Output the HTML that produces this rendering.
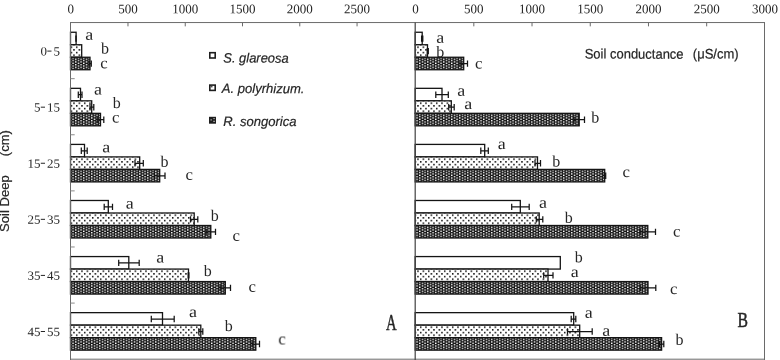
<!DOCTYPE html>
<html><head><meta charset="utf-8"><title>chart</title>
<style>
html,body{margin:0;padding:0;background:#fff;}
body{width:780px;height:360px;overflow:hidden;}
svg{display:block;filter:grayscale(1);}
text{font-family:"Liberation Serif",serif;fill:#262626;}
.s{font-family:"Liberation Sans",sans-serif;}
.b{stroke:#262626;stroke-width:0.2px;}
</style></head><body>
<svg width="780" height="360" viewBox="0 0 780 360">
<defs>
<pattern id="pd" patternUnits="userSpaceOnUse" x="3.920" y="1.120" width="5.3333" height="5.3333">
<rect x="0" y="0" width="5.3333" height="5.3333" fill="#fff"/>
<rect x="0" y="0" width="1.5" height="1.5" fill="#000"/>
<rect x="2.6667" y="2.6667" width="1.5" height="1.5" fill="#000"/>
</pattern>
<pattern id="pk" patternUnits="userSpaceOnUse" x="0.407" y="2.610" width="5.3333" height="2.6667">
<rect x="0" y="0" width="5.3333" height="2.6667" fill="#161616"/>
<rect x="0" y="0" width="1.4" height="1.4" fill="#fff"/>
<rect x="2.6667" y="1.3333" width="1.4" height="1.4" fill="#fff"/>
</pattern>
</defs>
<rect x="0" y="0" width="780" height="360" fill="#fff"/>
<g style="opacity:0.999">
<text transform="translate(89.2,39.8) rotate(0.03) scale(1.12,1.00)" font-size="16.0" text-anchor="middle">a</text>
<text transform="translate(105.0,53.6) rotate(0.03) scale(1.00,0.99)" font-size="16.0" text-anchor="middle">b</text>
<text transform="translate(104.0,68.3) rotate(0.03) scale(1.05,1.00)" font-size="16.0" text-anchor="middle">c</text>
<text transform="translate(98.0,94.6) rotate(0.03) scale(1.12,1.00)" font-size="16.0" text-anchor="middle">a</text>
<text transform="translate(116.7,108.0) rotate(0.03) scale(1.00,0.99)" font-size="16.0" text-anchor="middle">b</text>
<text transform="translate(115.8,122.5) rotate(0.03) scale(1.05,1.00)" font-size="16.0" text-anchor="middle">c</text>
<text transform="translate(106.2,152.3) rotate(0.03) scale(1.12,1.00)" font-size="16.0" text-anchor="middle">a</text>
<text transform="translate(164.6,166.8) rotate(0.03) scale(1.00,0.99)" font-size="16.0" text-anchor="middle">b</text>
<text transform="translate(189.2,179.8) rotate(0.03) scale(1.05,1.00)" font-size="16.0" text-anchor="middle">c</text>
<text transform="translate(129.7,208.6) rotate(0.03) scale(1.12,1.00)" font-size="16.0" text-anchor="middle">a</text>
<text transform="translate(214.7,220.8) rotate(0.03) scale(1.00,0.99)" font-size="16.0" text-anchor="middle">b</text>
<text transform="translate(236.3,240.8) rotate(0.03) scale(1.05,1.00)" font-size="16.0" text-anchor="middle">c</text>
<text transform="translate(160.3,262.6) rotate(0.03) scale(1.12,1.00)" font-size="16.0" text-anchor="middle">a</text>
<text transform="translate(207.8,276.0) rotate(0.03) scale(1.00,0.99)" font-size="16.0" text-anchor="middle">b</text>
<text transform="translate(252.2,291.8) rotate(0.03) scale(1.05,1.00)" font-size="16.0" text-anchor="middle">c</text>
<text transform="translate(193.0,317.0) rotate(0.03) scale(1.12,1.00)" font-size="16.0" text-anchor="middle">a</text>
<text transform="translate(228.7,331.1) rotate(0.03) scale(1.00,0.99)" font-size="16.0" text-anchor="middle">b</text>
<text transform="translate(282.0,344.5) rotate(0.03) scale(1.05,1.00)" font-size="16.0" text-anchor="middle">c</text>
<text transform="translate(440.3,42.8) rotate(0.03) scale(1.12,1.00)" font-size="16.0" text-anchor="middle">a</text>
<text transform="translate(440.3,57.0) rotate(0.03) scale(1.00,0.99)" font-size="16.0" text-anchor="middle">b</text>
<text transform="translate(478.7,68.6) rotate(0.03) scale(1.05,1.00)" font-size="16.0" text-anchor="middle">c</text>
<text transform="translate(461.2,95.8) rotate(0.03) scale(1.12,1.00)" font-size="16.0" text-anchor="middle">a</text>
<text transform="translate(468.3,109.1) rotate(0.03) scale(1.12,1.00)" font-size="16.0" text-anchor="middle">a</text>
<text transform="translate(595.3,122.5) rotate(0.03) scale(1.00,0.99)" font-size="16.0" text-anchor="middle">b</text>
<text transform="translate(501.7,149.0) rotate(0.03) scale(1.12,1.00)" font-size="16.0" text-anchor="middle">a</text>
<text transform="translate(556.2,166.5) rotate(0.03) scale(1.00,0.99)" font-size="16.0" text-anchor="middle">b</text>
<text transform="translate(626.2,177.0) rotate(0.03) scale(1.05,1.00)" font-size="16.0" text-anchor="middle">c</text>
<text transform="translate(543.0,207.8) rotate(0.03) scale(1.12,1.00)" font-size="16.0" text-anchor="middle">a</text>
<text transform="translate(568.7,222.8) rotate(0.03) scale(1.00,0.99)" font-size="16.0" text-anchor="middle">b</text>
<text transform="translate(676.7,236.6) rotate(0.03) scale(1.05,1.00)" font-size="16.0" text-anchor="middle">c</text>
<text transform="translate(578.7,262.3) rotate(0.03) scale(1.00,0.99)" font-size="16.0" text-anchor="middle">b</text>
<text transform="translate(574.7,277.1) rotate(0.03) scale(1.12,1.00)" font-size="16.0" text-anchor="middle">a</text>
<text transform="translate(673.8,294.0) rotate(0.03) scale(1.05,1.00)" font-size="16.0" text-anchor="middle">c</text>
<text transform="translate(588.7,317.8) rotate(0.03) scale(1.12,1.00)" font-size="16.0" text-anchor="middle">a</text>
<text transform="translate(606.3,335.8) rotate(0.03) scale(1.12,1.00)" font-size="16.0" text-anchor="middle">a</text>
<text transform="translate(679.6,344.7) rotate(0.03) scale(1.00,0.99)" font-size="16.0" text-anchor="middle">b</text>
<rect x="70.50" y="32.25" width="5.60" height="12.50" fill="#fff" stroke="#141414" stroke-width="1.3"/>
<rect x="70.50" y="44.75" width="11.20" height="12.50" fill="url(#pd)" stroke="#141414" stroke-width="1.3"/>
<rect x="70.50" y="57.25" width="19.50" height="12.50" fill="url(#pk)" stroke="#141414" stroke-width="1.3"/>
<path d="M75.90 38.60H76.10M75.90 35.40V41.80M76.10 35.40V41.80" stroke="#141414" stroke-width="1.25" fill="none"/>
<path d="M89.00 63.60H91.30M89.00 60.40V66.80M91.30 60.40V66.80" stroke="#141414" stroke-width="1.25" fill="none"/>
<rect x="70.50" y="88.33" width="10.00" height="12.50" fill="#fff" stroke="#141414" stroke-width="1.3"/>
<rect x="70.50" y="100.83" width="21.20" height="12.50" fill="url(#pd)" stroke="#141414" stroke-width="1.3"/>
<rect x="70.50" y="113.33" width="30.00" height="12.50" fill="url(#pk)" stroke="#141414" stroke-width="1.3"/>
<path d="M78.30 94.68H82.00M78.30 91.48V97.88M82.00 91.48V97.88" stroke="#141414" stroke-width="1.25" fill="none"/>
<path d="M90.00 107.18H93.80M90.00 103.98V110.38M93.80 103.98V110.38" stroke="#141414" stroke-width="1.25" fill="none"/>
<path d="M97.20 119.68H103.80M97.20 116.48V122.88M103.80 116.48V122.88" stroke="#141414" stroke-width="1.25" fill="none"/>
<rect x="70.50" y="144.41" width="14.00" height="12.50" fill="#fff" stroke="#141414" stroke-width="1.3"/>
<rect x="70.50" y="156.91" width="69.20" height="12.50" fill="url(#pd)" stroke="#141414" stroke-width="1.3"/>
<rect x="70.50" y="169.41" width="89.20" height="12.50" fill="url(#pk)" stroke="#141414" stroke-width="1.3"/>
<path d="M81.30 150.76H87.20M81.30 147.56V153.96M87.20 147.56V153.96" stroke="#141414" stroke-width="1.25" fill="none"/>
<path d="M135.00 163.26H143.30M135.00 160.06V166.46M143.30 160.06V166.46" stroke="#141414" stroke-width="1.25" fill="none"/>
<path d="M154.40 175.76H165.00M154.40 172.56V178.96M165.00 172.56V178.96" stroke="#141414" stroke-width="1.25" fill="none"/>
<rect x="70.50" y="200.49" width="37.80" height="12.50" fill="#fff" stroke="#141414" stroke-width="1.3"/>
<rect x="70.50" y="212.99" width="123.70" height="12.50" fill="url(#pd)" stroke="#141414" stroke-width="1.3"/>
<rect x="70.50" y="225.49" width="140.30" height="12.50" fill="url(#pk)" stroke="#141414" stroke-width="1.3"/>
<path d="M104.20 206.84H112.50M104.20 203.64V210.04M112.50 203.64V210.04" stroke="#141414" stroke-width="1.25" fill="none"/>
<path d="M190.50 219.34H197.80M190.50 216.14V222.54M197.80 216.14V222.54" stroke="#141414" stroke-width="1.25" fill="none"/>
<path d="M206.10 231.84H215.50M206.10 228.64V235.04M215.50 228.64V235.04" stroke="#141414" stroke-width="1.25" fill="none"/>
<rect x="70.50" y="256.57" width="58.30" height="12.50" fill="#fff" stroke="#141414" stroke-width="1.3"/>
<rect x="70.50" y="269.07" width="118.00" height="12.50" fill="url(#pd)" stroke="#141414" stroke-width="1.3"/>
<rect x="70.50" y="281.57" width="154.80" height="12.50" fill="url(#pk)" stroke="#141414" stroke-width="1.3"/>
<path d="M118.70 262.92H139.20M118.70 259.72V266.12M139.20 259.72V266.12" stroke="#141414" stroke-width="1.25" fill="none"/>
<path d="M188.20 275.42H188.90M188.20 272.22V278.62M188.90 272.22V278.62" stroke="#141414" stroke-width="1.25" fill="none"/>
<path d="M220.10 287.92H230.50M220.10 284.72V291.12M230.50 284.72V291.12" stroke="#141414" stroke-width="1.25" fill="none"/>
<rect x="70.50" y="312.65" width="92.00" height="12.50" fill="#fff" stroke="#141414" stroke-width="1.3"/>
<rect x="70.50" y="325.15" width="130.30" height="12.50" fill="url(#pd)" stroke="#141414" stroke-width="1.3"/>
<rect x="70.50" y="337.65" width="185.30" height="12.50" fill="url(#pk)" stroke="#141414" stroke-width="1.3"/>
<path d="M151.30 319.00H174.20M151.30 315.80V322.20M174.20 315.80V322.20" stroke="#141414" stroke-width="1.25" fill="none"/>
<path d="M198.80 331.50H202.80M198.80 328.30V334.70M202.80 328.30V334.70" stroke="#141414" stroke-width="1.25" fill="none"/>
<path d="M252.10 344.00H259.50M252.10 340.80V347.20M259.50 340.80V347.20" stroke="#141414" stroke-width="1.25" fill="none"/>
<rect x="415.20" y="32.25" width="7.00" height="12.50" fill="#fff" stroke="#141414" stroke-width="1.3"/>
<rect x="415.20" y="44.75" width="12.30" height="12.50" fill="url(#pd)" stroke="#141414" stroke-width="1.3"/>
<rect x="415.20" y="57.25" width="48.50" height="12.50" fill="url(#pk)" stroke="#141414" stroke-width="1.3"/>
<path d="M421.60 38.60H422.80M421.60 35.40V41.80M422.80 35.40V41.80" stroke="#141414" stroke-width="1.25" fill="none"/>
<path d="M427.30 51.10H428.30M427.30 47.90V54.30M428.30 47.90V54.30" stroke="#141414" stroke-width="1.25" fill="none"/>
<path d="M459.90 63.60H467.50M459.90 60.40V66.80M467.50 60.40V66.80" stroke="#141414" stroke-width="1.25" fill="none"/>
<rect x="415.20" y="88.33" width="26.80" height="12.50" fill="#fff" stroke="#141414" stroke-width="1.3"/>
<rect x="415.20" y="100.83" width="36.10" height="12.50" fill="url(#pd)" stroke="#141414" stroke-width="1.3"/>
<rect x="415.20" y="113.33" width="164.00" height="12.50" fill="url(#pk)" stroke="#141414" stroke-width="1.3"/>
<path d="M435.80 94.68H448.30M435.80 91.48V97.88M448.30 91.48V97.88" stroke="#141414" stroke-width="1.25" fill="none"/>
<path d="M448.70 107.18H454.20M448.70 103.98V110.38M454.20 103.98V110.38" stroke="#141414" stroke-width="1.25" fill="none"/>
<path d="M573.90 119.68H584.50M573.90 116.48V122.88M584.50 116.48V122.88" stroke="#141414" stroke-width="1.25" fill="none"/>
<rect x="415.20" y="144.41" width="69.50" height="12.50" fill="#fff" stroke="#141414" stroke-width="1.3"/>
<rect x="415.20" y="156.91" width="122.30" height="12.50" fill="url(#pd)" stroke="#141414" stroke-width="1.3"/>
<rect x="415.20" y="169.41" width="189.50" height="12.50" fill="url(#pk)" stroke="#141414" stroke-width="1.3"/>
<path d="M480.80 150.76H488.30M480.80 147.56V153.96M488.30 147.56V153.96" stroke="#141414" stroke-width="1.25" fill="none"/>
<path d="M535.00 163.26H540.50M535.00 160.06V166.46M540.50 160.06V166.46" stroke="#141414" stroke-width="1.25" fill="none"/>
<path d="M604.20 175.76H605.70M604.20 172.56V178.96M605.70 172.56V178.96" stroke="#141414" stroke-width="1.25" fill="none"/>
<rect x="415.20" y="200.49" width="105.10" height="12.50" fill="#fff" stroke="#141414" stroke-width="1.3"/>
<rect x="415.20" y="212.99" width="124.00" height="12.50" fill="url(#pd)" stroke="#141414" stroke-width="1.3"/>
<rect x="415.20" y="225.49" width="232.60" height="12.50" fill="url(#pk)" stroke="#141414" stroke-width="1.3"/>
<path d="M511.70 206.84H529.20M511.70 203.64V210.04M529.20 203.64V210.04" stroke="#141414" stroke-width="1.25" fill="none"/>
<path d="M536.30 219.34H542.80M536.30 216.14V222.54M542.80 216.14V222.54" stroke="#141414" stroke-width="1.25" fill="none"/>
<path d="M640.10 231.84H655.50M640.10 228.64V235.04M655.50 228.64V235.04" stroke="#141414" stroke-width="1.25" fill="none"/>
<rect x="415.20" y="256.57" width="145.10" height="12.50" fill="#fff" stroke="#141414" stroke-width="1.3"/>
<rect x="415.20" y="269.07" width="132.80" height="12.50" fill="url(#pd)" stroke="#141414" stroke-width="1.3"/>
<rect x="415.20" y="281.57" width="232.80" height="12.50" fill="url(#pk)" stroke="#141414" stroke-width="1.3"/>
<path d="M543.70 275.42H553.00M543.70 272.22V278.62M553.00 272.22V278.62" stroke="#141414" stroke-width="1.25" fill="none"/>
<path d="M640.20 287.92H655.80M640.20 284.72V291.12M655.80 284.72V291.12" stroke="#141414" stroke-width="1.25" fill="none"/>
<rect x="415.20" y="312.65" width="158.50" height="12.50" fill="#fff" stroke="#141414" stroke-width="1.3"/>
<rect x="415.20" y="325.15" width="164.50" height="12.50" fill="url(#pd)" stroke="#141414" stroke-width="1.3"/>
<rect x="415.20" y="337.65" width="246.40" height="12.50" fill="url(#pk)" stroke="#141414" stroke-width="1.3"/>
<path d="M571.20 319.00H575.80M571.20 315.80V322.20M575.80 315.80V322.20" stroke="#141414" stroke-width="1.25" fill="none"/>
<path d="M567.50 331.50H592.20M567.50 328.30V334.70M592.20 328.30V334.70" stroke="#141414" stroke-width="1.25" fill="none"/>
<path d="M659.40 344.00H663.80M659.40 340.80V347.20M663.80 340.80V347.20" stroke="#141414" stroke-width="1.25" fill="none"/>
<g stroke="#6a6a6a" stroke-width="1.0" fill="none">
<path d="M70.00 22.55H765.00"/>
<path d="M70.00 359.20H765.00"/>
<path d="M70.50 22.55V360.00"/>
<path d="M415.20 22.55V360.00" stroke-width="1.25" stroke="#484848"/>
<path d="M764.50 22.55V360.00"/>
<path d="M127.97 22.55V26.35M473.82 22.55V26.35M185.24 22.55V26.35M532.03 22.55V26.35M242.51 22.55V26.35M590.25 22.55V26.35M299.78 22.55V26.35M648.47 22.55V26.35M357.05 22.55V26.35M706.68 22.55V26.35"/>
</g>
<path d="M70.50 78.66H74.70M70.50 134.77H74.70M70.50 190.88H74.70M70.50 246.98H74.70M70.50 303.09H74.70" stroke="#8a8a8a" stroke-width="1" fill="none"/>
<text transform="translate(70.70,13.20) rotate(0.03) scale(1,1.01)" font-size="13.0" text-anchor="middle">0</text>
<text transform="translate(127.97,13.20) rotate(0.03) scale(1,1.01)" font-size="13.0" text-anchor="middle">500</text>
<text transform="translate(185.24,13.20) rotate(0.03) scale(1,1.01)" font-size="13.0" text-anchor="middle">1000</text>
<text transform="translate(242.51,13.20) rotate(0.03) scale(1,1.01)" font-size="13.0" text-anchor="middle">1500</text>
<text transform="translate(299.78,13.20) rotate(0.03) scale(1,1.01)" font-size="13.0" text-anchor="middle">2000</text>
<text transform="translate(357.05,13.20) rotate(0.03) scale(1,1.01)" font-size="13.0" text-anchor="middle">2500</text>
<text transform="translate(415.60,13.20) rotate(0.03) scale(1,1.01)" font-size="13.0" text-anchor="middle">0</text>
<text transform="translate(473.82,13.20) rotate(0.03) scale(1,1.01)" font-size="13.0" text-anchor="middle">500</text>
<text transform="translate(532.03,13.20) rotate(0.03) scale(1,1.01)" font-size="13.0" text-anchor="middle">1000</text>
<text transform="translate(590.25,13.20) rotate(0.03) scale(1,1.01)" font-size="13.0" text-anchor="middle">1500</text>
<text transform="translate(648.47,13.20) rotate(0.03) scale(1,1.01)" font-size="13.0" text-anchor="middle">2000</text>
<text transform="translate(706.68,13.20) rotate(0.03) scale(1,1.01)" font-size="13.0" text-anchor="middle">2500</text>
<text transform="translate(764.90,13.20) rotate(0.03) scale(1,1.01)" font-size="13.0" text-anchor="middle">3000</text>
<text transform="translate(60.00,55.50) rotate(0.03) scale(1,0.97)" font-size="13.0" text-anchor="end">5</text>
<path d="M47.30 51.10H51.50" stroke="#262626" stroke-width="1.0"/>
<text transform="translate(46.90,55.50) rotate(0.03) scale(1,0.97)" font-size="13.0" text-anchor="end">0</text>
<text transform="translate(60.00,111.58) rotate(0.03) scale(1,0.97)" font-size="13.0" text-anchor="end">15</text>
<path d="M40.80 107.18H45.00" stroke="#262626" stroke-width="1.0"/>
<text transform="translate(40.40,111.58) rotate(0.03) scale(1,0.97)" font-size="13.0" text-anchor="end">5</text>
<text transform="translate(60.00,167.66) rotate(0.03) scale(1,0.97)" font-size="13.0" text-anchor="end">25</text>
<path d="M40.80 163.26H45.00" stroke="#262626" stroke-width="1.0"/>
<text transform="translate(40.40,167.66) rotate(0.03) scale(1,0.97)" font-size="13.0" text-anchor="end">15</text>
<text transform="translate(60.00,223.74) rotate(0.03) scale(1,0.97)" font-size="13.0" text-anchor="end">35</text>
<path d="M40.80 219.34H45.00" stroke="#262626" stroke-width="1.0"/>
<text transform="translate(40.40,223.74) rotate(0.03) scale(1,0.97)" font-size="13.0" text-anchor="end">25</text>
<text transform="translate(60.00,279.82) rotate(0.03) scale(1,0.97)" font-size="13.0" text-anchor="end">45</text>
<path d="M40.80 275.42H45.00" stroke="#262626" stroke-width="1.0"/>
<text transform="translate(40.40,279.82) rotate(0.03) scale(1,0.97)" font-size="13.0" text-anchor="end">35</text>
<text transform="translate(60.00,335.90) rotate(0.03) scale(1,0.97)" font-size="13.0" text-anchor="end">55</text>
<path d="M40.80 331.50H45.00" stroke="#262626" stroke-width="1.0"/>
<text transform="translate(40.40,335.90) rotate(0.03) scale(1,0.97)" font-size="13.0" text-anchor="end">45</text>
<text class="s b" transform="translate(9.1,231.9) rotate(-90)" font-size="13.05">Soil Deep</text>
<text class="s b" transform="translate(9.1,156.2) rotate(-90)" font-size="13.05">(cm)</text>
<text class="s b" transform="translate(223.3,62.6) rotate(0.03) scale(1,1.05)" font-size="12.85" font-style="italic" textLength="65.4" lengthAdjust="spacingAndGlyphs">S. glareosa</text>
<text class="s b" transform="translate(221.8,93.1) rotate(0.03) scale(1,1.05)" font-size="12.85" font-style="italic" textLength="82.6" lengthAdjust="spacingAndGlyphs">A. polyrhizum.</text>
<text class="s b" transform="translate(223.3,125.9) rotate(0.03) scale(1,1.05)" font-size="12.85" font-style="italic" textLength="73.2" lengthAdjust="spacingAndGlyphs">R. songorica</text>
<rect x="209.8" y="52.70" width="5.4" height="5.3" fill="#fff" stroke="#1e1e1e" stroke-width="1.6"/>
<rect x="209.8" y="85.10" width="5.4" height="5.3" fill="#fff" stroke="#1e1e1e" stroke-width="1.6"/>
<rect x="209.8" y="117.60" width="5.4" height="5.3" fill="#1e1e1e" stroke="#1e1e1e" stroke-width="1.6"/>
<rect x="210.6" y="85.9" width="1.9" height="1.5" fill="#4a4a4a"/>
<rect x="210.5" y="119.1" width="1.3" height="1.5" fill="#9a9a9a"/>
<rect x="213.4" y="118.2" width="1.3" height="0.9" fill="#d0d0d0"/>
<rect x="213.4" y="120.8" width="1.3" height="1.0" fill="#eee"/>
<text class="s b" transform="translate(584.7,58.6) rotate(0.03) scale(1,1.06)" font-size="13.00">Soil conductance</text>
<text class="s b" transform="translate(692.8,58.6) rotate(0.03) scale(1,1.06)" font-size="13.05">(μS/cm)</text>
<text transform="translate(391.3,329.9) scale(0.64,1)" font-size="23" text-anchor="middle" stroke="#262626" stroke-width="0.5">A</text>
<text transform="translate(742.8,327.0) scale(0.72,1)" font-size="21.8" text-anchor="middle" stroke="#262626" stroke-width="0.5">B</text>
</g>
</svg>
</body></html>
